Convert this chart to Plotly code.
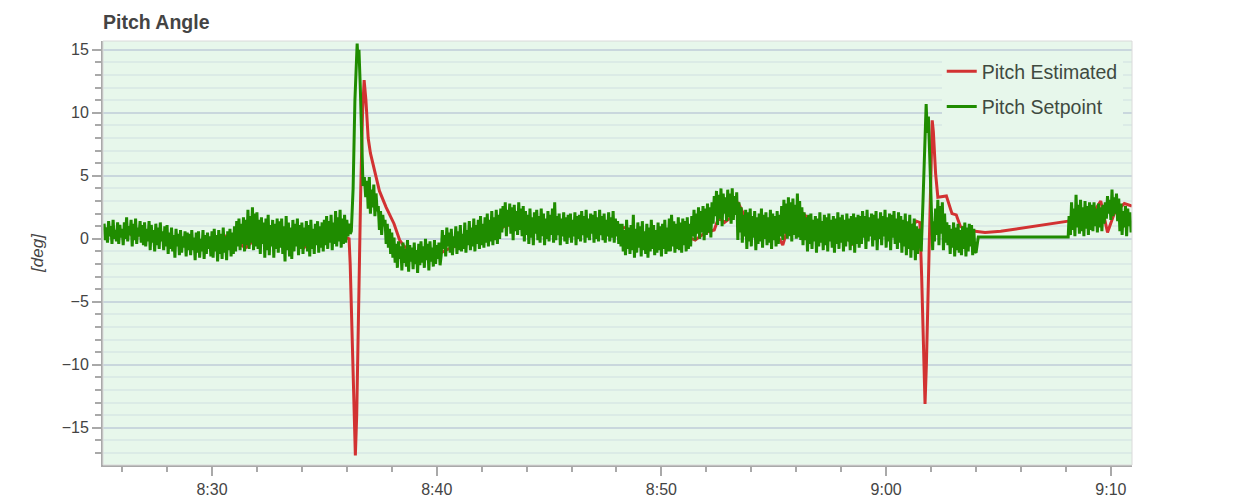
import numpy as np
import plotly.graph_objects as go

# ---------------- data (seconds of flight time, degrees) ----------------
# Pitch setpoint: noisy segments sampled every 0.05 s
SP_DT = 0.05
sp_seg1_start = 505.2
sp_seg1_vals = [
    1.2, -0.1, 0.9, -0.3, 1.4, 0.2, 1.0, -0.4, 1.5, 0.0, 0.7, -0.2, 1.3, -0.4, 1.1, 0.1,
    0.8, -0.5, 1.3, 0.0, 1.7, -0.2, 1.0, 0.3, 1.5, -0.6, 1.2, -0.1, 1.6, -0.4, 0.9, 0.2, 1.4, -0.3, 1.1, -0.5,
    1.3, -0.6, 0.8, -0.2, 1.4, -0.9, 1.1, -0.3, 0.7, -1.0, 1.2, -0.5, 0.9, -0.8, 1.3, -0.2, 0.6, -0.9, 1.0, -0.6,
    1.1, -1.2, 0.5, -0.8, 0.9, -1.0, 0.3, -1.5, 0.8, -0.6, 0.4, -1.3, 0.7, -1.1, 0.2, -0.7, 0.6, -1.4, 0.5, -0.9,
    0.4, -1.3, 0.7, -0.9, 0.1, -1.7, 0.5, -1.1, 0.6, -1.5, 0.0, -1.0, 0.7, -1.6, 0.3, -1.2, 0.5, -0.8, 0.2, -1.4,
    0.6, -1.5, 0.8, -1.0, 0.3, -1.8, 0.7, -1.2, 0.4, -1.6, 0.9, -1.1, 0.2, -1.7, 0.6, -0.9, 0.8, -1.4, 0.5, -1.2,
    1.0, -1.0, 1.4, -0.6, 1.6, -0.9, 1.2, -0.4, 1.7, -1.0, 1.5, -0.5, 2.3, -0.8, 1.8, -0.3, 2.5, -0.9, 2.0, -0.6,
    2.1, -0.8, 1.5, -1.2, 1.7, -0.4, 1.3, -1.5, 1.6, -0.9, 1.9, -1.3, 1.1, -0.6, 1.5, -1.5, 1.2, -0.8, 1.6, -1.1,
    1.4, -0.7, 1.6, -1.2, 1.0, -1.8, 1.8, -0.9, 1.3, -1.4, 0.9, -1.6, 1.5, -1.0, 1.2, -0.6, 1.6, -1.3, 1.1, -0.8,
    1.3, -1.2, 0.9, -0.6, 1.4, -1.0, 1.1, -1.4, 1.5, -0.8, 0.8, -1.2, 1.2, -0.5, 1.4, -1.1, 1.0, -0.7, 1.3, -1.0,
    1.5, -0.5, 1.8, -0.8, 1.4, -0.3, 1.9, -0.9, 1.3, -0.4, 2.2, -0.6, 1.7, -0.2, 2.3, -0.7, 1.6, -0.4, 1.9, -0.3,
    1.5, 0.2, 1.2, 0.4,
]
sp_spike1_t = [516.2, 516.28, 516.36, 516.42, 516.46, 516.5, 516.54, 516.6, 516.66, 516.72, 516.78, 516.84]
sp_spike1_v = [0.6, 4.0, 11.0, 14.5, 15.5, 14.0, 15.0, 12.0, 8.0, 4.2, 4.9, 3.3]

sp_seg2_start = 516.9
sp_seg2_vals = [
    4.6, 2.4, 4.9, 2.0, 3.9, 2.5, 4.3, 1.8, 3.6, 2.2,
    2.6, 0.7, 2.2, 0.3, 1.9, 1.0, 1.5, -0.4, 1.2, -0.7, 0.8, -1.2, 0.5, -1.5,
    0.1, -1.9, -0.4, -2.3, -0.2, -1.6, -0.6, -2.5, -0.3, -1.9, -0.8, -2.2,
    -0.1, -2.6, -0.5, -1.8, -0.7, -2.4, -0.3, -2.0, -0.9, -2.7, -0.4, -2.1,
    -0.2, -1.9, -0.6, -2.3, 0.0, -1.7, -0.4, -2.5, -0.2, -1.8, -0.7, -2.2, -0.1, -2.0, -0.5, -1.6, -0.3, -2.1,
    -1.3, 0.7, -0.8, 0.3, -1.4, 0.9, -0.6, 0.5, -1.1, 0.8, -1.3, 0.2, -0.7, 1.0, -1.2, 0.6, -0.9, 1.1, -1.0, 0.4,
    -0.8, 1.3, -1.1, 0.7, -0.5, 1.4, -0.9, 0.9, -0.6, 1.6, -1.0, 1.1, -0.4, 1.5, -0.8, 1.8, -0.5, 1.2, -0.7, 1.7,
    -0.3, 2.0, -0.6, 1.5, -0.2, 2.2, -0.5, 1.7, -0.1, 2.3, -0.4, 1.9, 0.0, 2.4,
    0.5, 2.6, 0.9, 2.9, 0.2, 2.3, 1.0, 2.8, 0.4, 2.5, -0.1, 2.7, 0.6, 2.2, 0.3, 2.9, 0.7, 2.4, 0.2, 2.6,
    -0.2, 2.2, 0.3, 1.9, -0.4, 2.4, 0.1, 1.7, -0.5, 2.1, 0.4, 2.3, -0.1, 1.8, -0.3, 2.4, 0.2, 2.0, -0.5, 1.6,
    0.0, 2.2, -0.2, 1.9, 0.3, 2.4,
    -0.3, 2.9, -0.1, 1.8, 0.3, 2.0, -0.5, 1.6, 0.2, 2.1, -0.2, 1.7, -0.4, 1.9, 0.1, 2.0, -0.3, 1.5, 0.2, 2.1,
    -0.5, 1.8, 0.0, 1.9,
    -0.2, 2.2, 0.3, 1.8, -0.3, 2.3, 0.1, 1.6, -0.1, 2.0, 0.4, 1.9, -0.3, 2.2, 0.0, 1.7, -0.2, 2.3, 0.3, 1.8,
    -0.1, 2.0, -0.3, 1.5, 0.2, 2.1, -0.2, 1.7, 0.1, 2.2, -0.3, 1.6, 0.2, 1.4, -0.4, 1.2,
    -0.6, 1.2, -1.0, 0.7, -1.3, 1.5, -0.8, 0.9, -1.2, 1.1, -0.9, 1.9, -1.5, 0.8, -1.1, 1.3, -0.7, 1.0, -1.4, 1.4,
    -0.9, 0.6, -1.2, 1.2, -1.5, 0.9, -1.0, 1.5, -0.8, 1.1, -1.3, 0.7, -1.1, 1.3, -0.9, 1.0, -1.4, 1.2, -0.8, 1.5,
    -1.2, 0.9, -1.0, 1.6,
    -1.0, 1.9, -0.6, 1.4, -1.1, 1.2, -0.8, 1.7, -0.9, 1.3, -1.1, 1.6, -0.5, 1.4, -1.0, 1.7, -0.8, 1.2,
    -0.6, 1.8, 0.2, 2.3, -0.1, 2.0, 0.4, 2.5, 0.0, 2.2, 0.5, 2.6, -0.1, 2.4, 0.3, 2.8, 0.5, 2.5, 0.1, 2.9,
    1.2, 3.4, 1.8, 3.8, 1.1, 3.5, 1.6, 4.0, 1.0, 3.6, 2.0, 3.3, 1.4, 3.9, 1.7, 3.6, 1.2, 4.0, 1.5, 3.4, 1.9, 3.7,
    -0.1, 2.9, 0.5, 2.5, -0.3, 1.9, 0.2, 2.3, -0.8, 2.1, -0.2, 2.4, -0.6, 1.8, 0.1, 2.2, -0.9, 1.7, -0.4, 2.0,
    -0.2, 2.4, -0.7, 1.9, 0.0, 2.1, -0.5, 1.7, -0.3, 2.3, -0.8, 2.0, -0.1, 1.8, -0.6, 2.2, -0.4, 1.9,
    0.2, 2.6, -0.1, 3.1, 0.4, 2.8, 0.0, 3.3, 0.2, 2.9, -0.2, 3.2, 0.3, 2.7, 0.0, 3.6, 0.1, 3.0, -0.1, 2.5,
    -0.5, 2.1, -0.1, 1.7, -1.0, 1.9, -0.4, 2.0, -0.8, 1.5, -0.2, 1.8, -1.1, 1.6, -0.6, 2.1, -0.3, 1.4, -0.9, 1.9,
    -0.5, 1.7, -1.0, 2.0, -0.2, 1.5, -0.7, 1.8, -1.1, 1.6, -0.4, 2.1, -0.8, 1.7, -0.3, 1.9, -1.0, 1.5, -0.6, 2.0,
    -0.2, 1.6, -0.9, 1.8, -0.5, 2.0, -1.1, 1.7, -0.4, 1.9, -0.7, 1.8,
    -0.4, 2.2, 0.1, 1.8, -0.8, 2.3, -0.2, 1.7, 0.2, 2.0, -0.6, 1.9, -0.1, 2.2, -0.9, 1.6, 0.0, 2.1, -0.5, 1.8,
    0.2, 2.3, -0.7, 1.7, -0.2, 2.0, -0.9, 1.9, 0.1, 2.2, -0.4, 1.6, -0.8, 2.1, -0.3, 1.8, -1.1, 1.5, -0.6, 2.0,
    -1.3, 1.4, -0.8, 1.9, -1.5, 1.2, -0.9, 1.6, -1.7, 1.0, -1.2, 0.8,
]
sp_spike2_t = [541.5, 541.56, 541.64, 541.72, 541.78, 541.83, 541.88, 541.94, 542.0, 542.07]
sp_spike2_v = [0.2, -1.0, 3.0, 8.5, 10.7, 8.4, 9.7, 6.5, 3.0, -0.9]

sp_seg3_start = 542.1
sp_seg3_vals = [
    1.4, -0.2, 2.4, 0.3, 3.1, -0.5, 2.6, 0.4, 2.9, -0.9, 2.0, -0.3, 1.3,
    -0.5, 1.1, -1.2, 0.8, -0.7, 1.3, -1.4, 0.9, -0.9, 1.2, -1.1, 0.7, -1.3, 1.0, -0.8, 1.3,
    -1.4, 0.9, -1.0, 1.2, -0.6, 1.1, -1.3, 0.8, -1.0, -1.1,
]
sp_hold_t = [544.1, 548.1, 548.14]
sp_hold_v = [0.15, 0.15, 1.8]

sp_seg4_start = 548.2
sp_seg4_vals = [
    0.3, 2.9, 0.7, 2.4, 0.2, 3.5, 0.9, 2.7, 0.4, 3.1, 0.6, 2.5, 0.2, 3.0, 0.8, 2.6, 0.3, 2.9, 0.7, 2.7,
    0.6, 2.9, 1.0, 2.4, 0.5, 2.8, 0.9, 2.5, 0.6, 2.7, 1.2, 2.9,
    1.6, 3.4, 2.0, 3.1, 1.5, 3.9, 1.8, 3.3, 2.0, 3.6, 1.4, 3.2,
    0.6, 2.8, 0.3, 2.2, 0.9, 2.6, 0.2, 2.4, 1.0, 2.1, 0.5,
]

# Pitch estimated
est_t = [505.2, 505.7, 506.2, 506.5, 507.0, 507.6, 508.1, 508.6, 509.1, 509.6,
         510.1, 510.5, 511.0, 511.5, 512.0, 512.5, 513.0, 513.5, 514.1, 514.6,
         515.1, 515.5, 515.9, 516.1, 516.15, 516.25, 516.32, 516.38, 516.44, 516.55,
         516.62, 516.7, 516.77, 516.85, 516.95, 517.05, 517.25, 517.45, 517.75, 518.1,
         518.35, 518.55, 518.9, 519.3, 519.7, 520.0, 520.4, 520.8, 521.2, 521.5,
         521.9, 522.2, 522.5, 522.8, 523.0, 523.5, 524.0, 524.5, 525.0, 525.5,
         526.0, 526.5, 527.0, 527.5, 528.0, 528.4, 528.8, 529.2, 529.7, 530.2,
         530.7, 531.1, 531.5, 531.95, 532.35, 532.55, 532.8, 533.1, 533.4, 533.65,
         534.1, 534.3, 534.7, 535.0, 535.4, 535.6, 535.9, 536.3, 536.75, 537.1,
         537.4, 537.8, 538.1, 538.5, 538.6, 539.0, 539.5, 540.0, 540.5, 541.0,
         541.35, 541.5, 541.58, 541.68, 541.73, 541.79, 541.9, 541.97, 542.05, 542.1,
         542.2, 542.3, 542.68, 542.93, 543.12, 543.3, 543.65, 543.96, 544.4, 545.1,
         548.1, 548.3, 548.8, 549.3, 549.55, 549.85, 550.15, 550.6, 550.94]
est_v = [0.5, 0.3, 0.6, 0.2, 0.4, 0.0, -0.2, -0.1, -0.5, -0.3,
         -0.6, 0.3, -0.2, -0.7, 0.1, 0.2, -0.1, 0.0, -0.7, 0.1,
         0.3, 0.4, 0.15, 0.0, -2.0, -9.0, -14.5, -17.2, -14.0, -1.7,
         4.0, 10.0, 12.6, 11.0, 8.0, 6.8, 5.2, 3.8, 2.5, 1.2,
         -0.1, -0.6, -1.0, -1.2, -1.1, -1.3, -0.9, -0.6, -0.4, 0.0,
         0.6, 0.1, 0.2, 0.7, 1.0, 1.2, 1.1, 1.0, 1.2, 0.9,
         1.0, 0.8, 0.9, 0.7, 0.8, 0.9, 0.4, 0.2, 0.1, 0.3,
         0.0, 0.2, -0.1, 0.5, 0.7, 1.7, 1.3, 1.7, 2.9, 2.0,
         1.5, 1.1, 0.9, 0.8, -0.5, 0.7, 1.2, 2.0, 1.3, 0.8,
         0.2, 0.5, 0.6, -0.5, 0.2, 0.5, 0.4, 0.6, 0.5, 0.7,
         1.4, 1.3, -3.0, -10.0, -13.1, -10.0, -1.4, 5.0, 9.4, 8.5,
         5.2, 3.3, 3.4, 2.0, 1.9, 1.0, 0.6, 0.6, 0.5, 0.6,
         1.4, 1.6, 1.9, 2.3, 3.0, 0.5, 2.0, 2.8, 2.6]

x_tick_vals = [510, 520, 530, 540, 550]
x_tick_text = ["8:30", "8:40", "8:50", "9:00", "9:10"]

# ---------------- assemble setpoint series ----------------
def seg(start, vals):
    return list(start + SP_DT * np.arange(len(vals))), list(vals)

sp_t, sp_v = [], []
for tt, vv in [seg(sp_seg1_start, sp_seg1_vals), (sp_spike1_t, sp_spike1_v),
               seg(sp_seg2_start, sp_seg2_vals), (sp_spike2_t, sp_spike2_v),
               seg(sp_seg3_start, sp_seg3_vals), (sp_hold_t, sp_hold_v),
               seg(sp_seg4_start, sp_seg4_vals)]:
    sp_t += list(tt)
    sp_v += list(vv)

RED = "#d23232"
GREEN = "#1f8c00"
BG = "#e7f7eb"
FONT = "Liberation Sans, Arial, sans-serif"
W, H = 1244, 496   # page body has an 8px margin

fig = go.Figure()
fig.add_trace(go.Scatter(x=est_t, y=est_v, mode="lines", name="Pitch Estimated",
                         line=dict(color=RED, width=3), legendgroup="a"))
fig.add_trace(go.Scatter(x=sp_t, y=sp_v, mode="lines", name="Pitch Setpoint",
                         line=dict(color=GREEN, width=3), legendgroup="b"))

fig.update_layout(
    width=W, height=H,
    margin=dict(l=95, r=120, t=33, b=39, autoexpand=False),
    paper_bgcolor="white",
    plot_bgcolor=BG,
    font=dict(family=FONT, color="#444444"),
    title=dict(text="<b>Pitch Angle</b>", font=dict(size=19.5, color="#444444"),
               xref="container", x=95 / W, xanchor="left",
               yref="container", y=1 - 7 / H, yanchor="top"),
    legend=dict(x=0.991, xanchor="right", y=0.974, yanchor="top",
                bgcolor=BG, borderwidth=0,
                font=dict(size=19.5, color="#3f4a3f"),
                traceorder="grouped", tracegroupgap=7),
    showlegend=True,
    shapes=[dict(type="rect", xref="paper", yref="paper", x0=0, x1=1, y0=0, y1=1,
                 line=dict(color="#dadada", width=1), layer="above")],
)

fig.update_xaxes(
    range=[505.15, 550.94],
    tickvals=x_tick_vals, ticktext=x_tick_text,
    showgrid=False, zeroline=False, automargin=False,
    showline=True, linecolor="#a9a9a9", linewidth=2,
    ticks="outside", ticklen=9, tickcolor="#a9a9a9", tickwidth=1.5,
    tickfont=dict(size=16, color="#444444"),
    minor=dict(dtick=2, tick0=0, ticks="outside", ticklen=5, tickcolor="#a9a9a9", showgrid=False),
)
fig.update_yaxes(
    range=[-17.95, 15.7],
    dtick=5, tick0=0,
    showgrid=True, gridcolor="#c9d7dd", gridwidth=1.5,
    zeroline=False, automargin=False,
    showline=True, linecolor="#a9a9a9", linewidth=2,
    ticks="outside", ticklen=9, tickcolor="#a9a9a9", tickwidth=1.5,
    tickfont=dict(size=16, color="#444444"),
    minor=dict(dtick=1, ticks="outside", ticklen=6, tickcolor="#a9a9a9",
               showgrid=True, gridcolor="#dbebe6", gridwidth=1.5),
    title=dict(text="<i>[deg]</i>", font=dict(size=17, color="#444444"), standoff=14),
)

fig.write_html("out.html")
